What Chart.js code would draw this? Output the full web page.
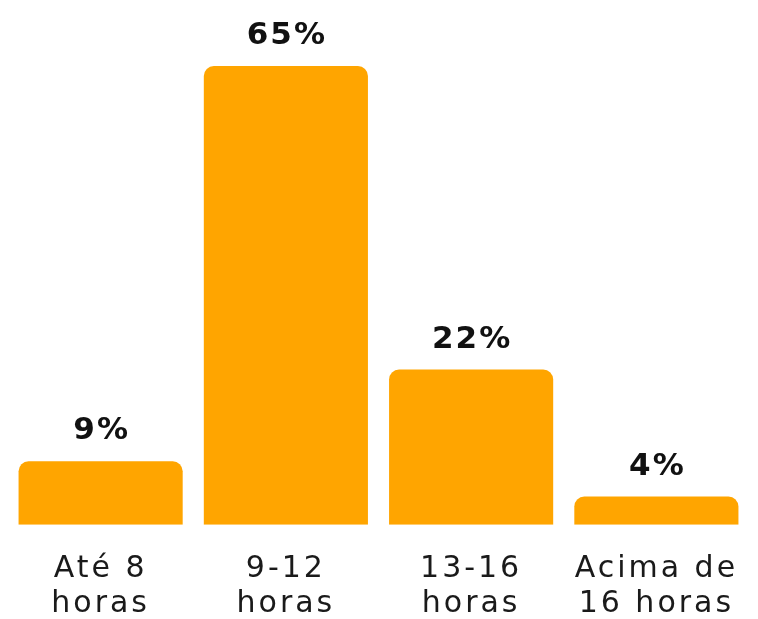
<!DOCTYPE html>
<html>
<head>
<meta charset="utf-8">
<script src="https://cdn.jsdelivr.net/npm/chart.js@4/dist/chart.umd.min.js"></script>
<style>
  html, body { margin: 0; padding: 0; background: #ffffff; }
  #wrap { width: 758px; height: 619px; position: relative; }
</style>
</head>
<body>
<div id="wrap"><canvas id="chart"></canvas></div>
<script>
// Daily hours ranges (multi-line category labels) and share of respondents (%)
const categories = [["Até 8", "horas"], ["9-12", "horas"], ["13-16", "horas"], ["Acima de", "16 horas"]];
const shares = [9, 65, 22, 4];
const valueLabels = ["9%", "65%", "22%", "4%"];

const FONT = "'DejaVu Sans', sans-serif";

// Slightly wider tracking for the axis labels, set on the shared context before drawing
const trackingPlugin = {
  id: 'tracking',
  beforeDraw(chart) { chart.ctx.letterSpacing = '3px'; },
  afterDraw(chart) { chart.ctx.letterSpacing = '0px'; }
};

// Draws the bold percentage above each bar
const valueLabelPlugin = {
  id: 'valueLabels',
  afterDatasetsDraw(chart) {
    const ctx = chart.ctx;
    const meta = chart.getDatasetMeta(0);
    ctx.save();
    ctx.letterSpacing = '2px';
    ctx.font = "bold 31px " + FONT;
    ctx.fillStyle = '#111111';
    ctx.textAlign = 'center';
    ctx.textBaseline = 'alphabetic';
    meta.data.forEach((bar, i) => {
      ctx.fillText(valueLabels[i], bar.x + 1, bar.y - 22);
    });
    ctx.restore();
  }
};

new Chart(document.getElementById('chart'), {
  type: 'bar',
  data: {
    labels: categories,
    datasets: [{
      data: shares,
      backgroundColor: '#FFA500',
      borderRadius: { topLeft: 10, topRight: 10, bottomLeft: 0, bottomRight: 0 },
      borderSkipped: 'bottom',
      categoryPercentage: 0.886,
      barPercentage: 1.0
    }]
  },
  options: {
    responsive: true,
    maintainAspectRatio: false,
    animation: false,
    layout: { padding: { top: 66, left: 8, right: 9, bottom: -22 } },
    plugins: { legend: { display: false }, tooltip: { enabled: false } },
    scales: {
      x: {
        grid: { display: false },
        border: { display: false },
        ticks: {
          color: '#1a1a1a',
          font: { family: FONT, size: 30, lineHeight: 1.17 },
          padding: 19,
          maxRotation: 0,
          autoSkip: false
        }
      },
      y: {
        display: false,
        min: 0,
        max: 65
      }
    }
  },
  plugins: [trackingPlugin, valueLabelPlugin]
});
</script>
</body>
</html>
